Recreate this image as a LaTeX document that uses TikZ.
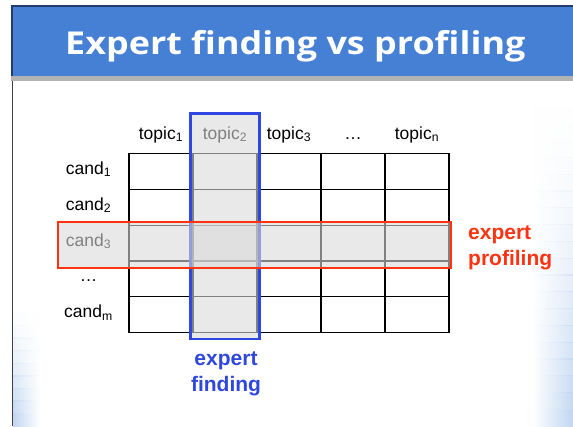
\documentclass[tikz,border=0pt]{standalone}
\usepackage{fontspec}
\setmainfont{Liberation Sans}
\newfontfamily\headfont{Open Sans}[FakeStretch=1.14]

\definecolor{barblue}{RGB}{70,128,212}
\definecolor{baredge}{RGB}{35,60,110}
\definecolor{shadowgray}{RGB}{178,178,178}
\definecolor{veilgray}{RGB}{218,218,218}
\definecolor{findblue}{RGB}{46,71,224}
\definecolor{profred}{RGB}{255,51,17}
\definecolor{edgeblue}{RGB}{192,214,242}

\begin{document}
\begin{tikzpicture}[x=1pt,y=-1pt,
  lbl/.style={font=\fontsize{17.5}{21}\selectfont, inner sep=0pt, anchor=base},
  tag/.style={font=\fontsize{21}{26}\selectfont\bfseries, inner sep=0pt, anchor=base},
  gridline/.style={line width=1.2pt},
  frameline/.style={line width=1.8pt},
  veil/.style={fill=veilgray, fill opacity=0.59, line width=2.5pt},
]
\useasboundingbox (0,0) rectangle (573,426);
\fill[white] (0,0) rectangle (573,426);

% soft blue glow along the slide edges, growing towards the bottom
\foreach \i in {0,...,19}{
  \pgfmathsetmacro{\ya}{90+\i*16.8}
  \pgfmathsetmacro{\yb}{\ya+17}
  \pgfmathsetmacro{\op}{min(1,(\i/19)^1.6)}
  \shade[left color=white, right color=edgeblue, opacity=\op] (532,\ya) rectangle (573,\yb);
}
\foreach \i in {0,...,9}{
  \pgfmathsetmacro{\ya}{300+\i*12.6}
  \pgfmathsetmacro{\yb}{\ya+13}
  \pgfmathsetmacro{\op}{min(1,(\i/9)^1.4)}
  \shade[left color=edgeblue, right color=white, opacity=\op] (13,\ya) rectangle (40,\yb);
}

% title bar
\fill[barblue] (11,5) rectangle (573,76);
\draw[baredge, line width=1.5pt] (11.75,76) -- (11.75,5.75) -- (573,5.75);
\fill[shadowgray] (11,76) rectangle (573,81);
\draw[black!75, line width=1.2pt] (12.5,81) -- (12.5,426);
\node[anchor=base west, text=white, inner sep=0pt,
      font=\headfont\bfseries\fontsize{31.5}{36}\selectfont] (title) at (65,54.3)
      {Expert finding vs profiling};

% candidate x topic grid
\foreach \x in {193,257,321,385}
  \draw[gridline] (\x,153.5) -- (\x,332.5);
\foreach \y in {189.3,225.1,260.9,296.7}
  \draw[gridline] (129,\y) -- (449,\y);
\draw[frameline] (129,153.5) rectangle (449,332.5);

% column headers
\node[lbl] (t1) at (161,139.3) {topic\textsubscript{1}};
\node[lbl] (t2) at (225,139.3) {topic\textsubscript{2}};
\node[lbl] (t3) at (289,139.3) {topic\textsubscript{3}};
\node[lbl] (tdots) at (353,139.3) {…};
\node[lbl] (tn) at (417,139.3) {topic\textsubscript{n}};

% row headers
\node[lbl] (c1) at (88.5,174.4) {cand\textsubscript{1}};
\node[lbl] (c2) at (88.5,210.2) {cand\textsubscript{2}};
\node[lbl] (c3) at (88.5,246.0) {cand\textsubscript{3}};
\node[lbl] (cdots) at (88.5,281.8) {…};
\node[lbl] (cm) at (88.5,317.6) {cand\textsubscript{m}};

% highlighted column and row
\draw[veil, draw=findblue] (190.5,113.5) rectangle (259.5,339);
\draw[veil, draw=profred] (58,222) rectangle (451,268);

% labels of the two tasks
\node[tag, text=profred, align=left, anchor=base west] (prof) at (468,265.7) {expert\\profiling};
\node[tag, text=findblue, align=center] (find) at (226,391) {expert\\finding};
\end{tikzpicture}
\end{document}
